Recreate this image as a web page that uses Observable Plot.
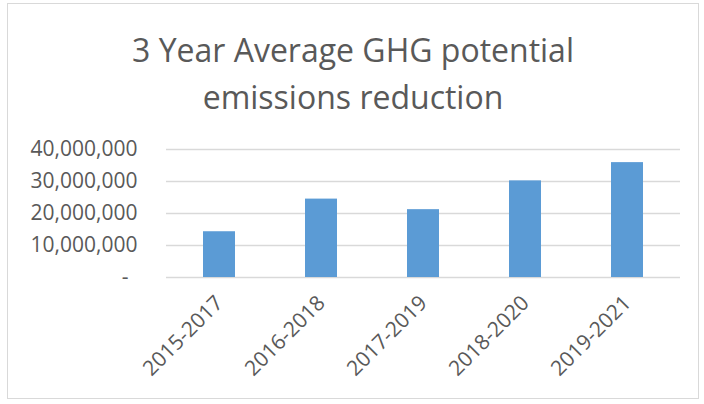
<!DOCTYPE html>
<html>
<head>
<meta charset="utf-8">
<script src="https://cdn.jsdelivr.net/npm/d3@7"></script>
<script src="https://cdn.jsdelivr.net/npm/@observablehq/plot@0.6"></script>
<style>
  html, body { margin: 0; padding: 0; background: #fff; }
  #wrap { position: relative; width: 704px; height: 404px; overflow: hidden; }
  #frame { position: absolute; left: 7px; top: 3px; width: 692px; height: 396px; border: 1px solid #d9d9d9; box-sizing: border-box; }
  #title { position: absolute; left: 7px; width: 692px; top: 26px; text-align: center;
    font-family: "Open Sans", sans-serif; font-weight: 400; font-size: 32px; line-height: 47px; color: #595959; }
  #chart { position: absolute; left: 0; top: 0; }
</style>
</head>
<body>
<div id="wrap">
  <div id="frame"></div>
  <div id="chart"></div>
  <div id="title">3 Year Average GHG potential<br>emissions reduction</div>
</div>
<script>
const periods = ["2015-2017", "2016-2018", "2017-2019", "2018-2020", "2019-2021"];
const reductions = [14300000, 24500000, 21200000, 30200000, 35900000];
const yTicks = [0, 10000000, 20000000, 30000000, 40000000];

const data = periods.map((p, i) => ({period: p, value: reductions[i]}));
const fmt = d3.format(",");

const chart = Plot.plot({
  width: 704,
  height: 404,
  marginTop: 149,
  marginBottom: 127,
  marginLeft: 166,
  marginRight: 24,
  style: {fontFamily: "'Open Sans', sans-serif", fontSize: "21px", color: "#595959", background: "transparent"},
  x: {domain: periods, paddingInner: 0.69, paddingOuter: 0.345, label: null},
  y: {domain: [0, 40000000], label: null},
  marks: [
    Plot.ruleY(yTicks, {stroke: "#d9d9d9", strokeWidth: 1.5}),
    Plot.barY(data, {x: "period", y: "value", fill: "#5b9bd5"}),
    Plot.axisY(yTicks.filter(d => d !== 0), {tickSize: 0, tickPadding: 29, tickFormat: fmt, fill: "#595959", fontSize: 21, label: null}),
    Plot.axisY([0], {tickSize: 0, tickPadding: 38, tickFormat: () => "-", fill: "#595959", fontSize: 21, label: null}),
    Plot.axisX({tickSize: 0, tickPadding: 22, tickRotate: -45, fill: "#595959", fontSize: 21, label: null})
  ]
});
document.getElementById("chart").appendChild(chart);
</script>
</body>
</html>
